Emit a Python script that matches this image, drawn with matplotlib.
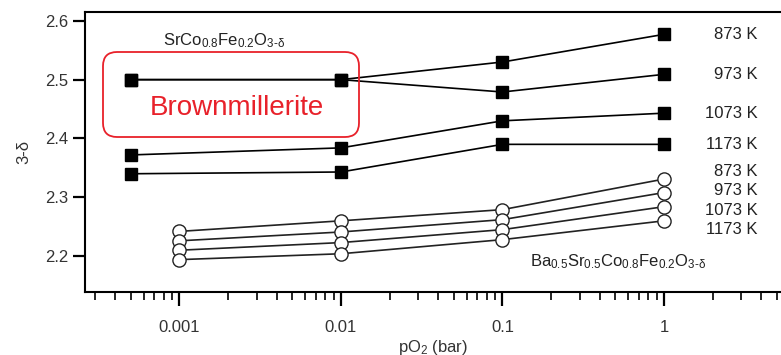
import matplotlib
matplotlib.use("Agg")
import matplotlib.pyplot as plt
from matplotlib.patches import FancyBboxPatch
from matplotlib.ticker import LogLocator, NullFormatter, FixedLocator, FixedFormatter

plt.rcParams['font.family'] = ['Liberation Sans', 'DejaVu Sans']
plt.rcParams['mathtext.fontset'] = 'custom'
plt.rcParams['mathtext.rm'] = 'Liberation Sans'
plt.rcParams['mathtext.it'] = 'Liberation Sans:italic'

# SrCo0.8Fe0.2O3-d (filled squares)
scf_p = [0.0005, 0.01, 0.1, 1]
scf_873 = [2.500, 2.500, 2.530, 2.577]
scf_973 = [2.500, 2.500, 2.479, 2.509]
scf_1073 = [2.372, 2.384, 2.430, 2.443]
scf_1173 = [2.340, 2.343, 2.390, 2.390]

# Ba0.5Sr0.5Co0.8Fe0.2O3-d (open circles)
bscf_p = [0.001, 0.01, 0.1, 1]
bscf_873 = [2.242, 2.260, 2.279, 2.331]
bscf_973 = [2.226, 2.241, 2.262, 2.308]
bscf_1073 = [2.210, 2.223, 2.245, 2.284]
bscf_1173 = [2.194, 2.204, 2.228, 2.260]

temps = ['873 K', '973 K', '1073 K', '1173 K']
bscf_label_y = [2.344, 2.312, 2.278, 2.245]

fig = plt.figure(figsize=(7.81, 3.55), dpi=100)
ax = fig.add_axes([0.1088, 0.1775, 0.8912, 0.7887])

for ys in [scf_873, scf_973, scf_1073, scf_1173]:
    ax.plot(scf_p, ys, color='black', lw=1.2, marker='s', ms=9,
            mfc='black', mec='black', zorder=3)
for ys in [bscf_873, bscf_973, bscf_1073, bscf_1173]:
    ax.plot(bscf_p, ys, color='#222222', lw=1.2, marker='o', ms=9.5,
            mfc='white', mec='#222222', mew=1.0, zorder=3)

# temperature labels
for t, ys in zip(temps, [scf_873, scf_973, scf_1073, scf_1173]):
    ax.text(3.8, ys[-1], t, ha='right', va='center', fontsize=12, color='#222222')
for t, y in zip(temps, bscf_label_y):
    ax.text(3.8, y, t, ha='right', va='center', fontsize=12, color='#222222')

sub = r'_{\mathrm{3}\text{-}\mathrm{δ}}'
ax.text(0.00079, 2.567, r'SrCo$_{0.8}$Fe$_{0.2}$O$' + sub + '$',
        ha='left', va='center', fontsize=12, color='#222222')
ax.text(0.147, 2.19, r'Ba$_{0.5}$Sr$_{0.5}$Co$_{0.8}$Fe$_{0.2}$O$' + sub + '$',
        ha='left', va='center', fontsize=12, color='#222222')

# Brownmillerite box (in figure inches)
box = FancyBboxPatch((1.03, 2.18), 2.56, 0.85,
                     boxstyle='round,pad=0,rounding_size=0.14',
                     transform=fig.dpi_scale_trans, fill=False,
                     edgecolor='#e8212a', lw=1.3, zorder=4)
fig.patches.append(box)
fig.text(2.365, 3.55 - 1.08, 'Brownmillerite', transform=fig.dpi_scale_trans,
         ha='center', va='center', fontsize=20, color='#e8212a')

ax.set_xscale('log')
ax.set_xlim(0.00026, 5.3)
ax.set_ylim(2.139, 2.615)

ax.xaxis.set_major_locator(FixedLocator([0.001, 0.01, 0.1, 1]))
ax.xaxis.set_major_formatter(FixedFormatter(['0.001', '0.01', '0.1', '1']))
ax.xaxis.set_minor_locator(LogLocator(base=10, subs=range(2, 10)))
ax.xaxis.set_minor_formatter(NullFormatter())
ax.set_yticks([2.2, 2.3, 2.4, 2.5, 2.6])

ax.spines['right'].set_visible(False)
for s in ['left', 'top', 'bottom']:
    ax.spines[s].set_linewidth(1.5)

ax.tick_params(axis='y', direction='out', length=9, width=1.6, labelsize=12,
               pad=3, labelcolor='#333333')
ax.tick_params(axis='x', which='major', direction='out', length=10, width=1.6,
               labelsize=12, pad=10, labelcolor='#333333')
ax.tick_params(axis='x', which='minor', direction='out', length=6, width=1.2)

ax.set_ylabel('3-δ', fontsize=12, color='#333333', labelpad=10)
ax.set_xlabel('pO$_2$ (bar)', fontsize=12, color='#333333', labelpad=2)

fig.savefig('out.png', dpi=100)
